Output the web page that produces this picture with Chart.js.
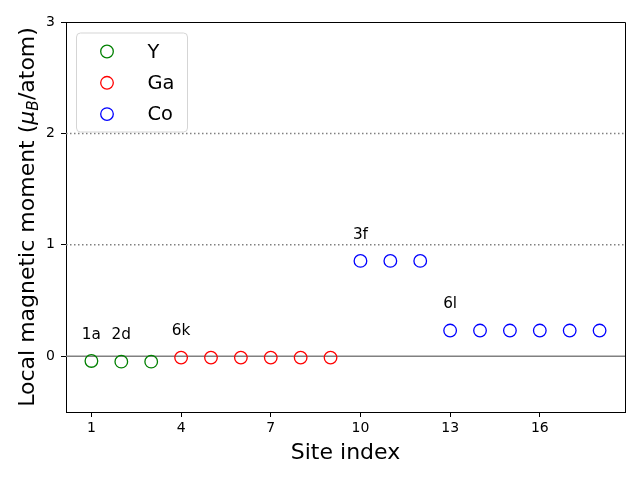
<!DOCTYPE html>
<html>
<head>
<meta charset="utf-8">
<script src="https://cdn.jsdelivr.net/npm/chart.js@4"></script>
<style>
  html, body { margin: 0; padding: 0; background: #ffffff; }
  #wrap { width: 640px; height: 480px; }
</style>
</head>
<body>
<div id="wrap"><canvas id="c" width="640" height="480"></canvas></div>
<script>
// ---- data ----
const siteY  = [1, 2, 3];
const momY   = [-0.042, -0.048, -0.048];
const siteGa = [4, 5, 6, 7, 8, 9];
const momGa  = [-0.012, -0.012, -0.012, -0.012, -0.012, -0.012];
const siteCo = [10, 11, 12, 13, 14, 15, 16, 17, 18];
const momCo  = [0.856, 0.856, 0.856, 0.231, 0.231, 0.231, 0.231, 0.231, 0.231];

const annotLabels = ['1a', '2d', '6k', '3f', '6l'];
const annotX      = [1, 2, 4, 10, 13];
const annotY      = [0.158, 0.152, 0.188, 1.056, 0.431];

const xTicks = [1, 4, 7, 10, 13, 16];
const yTicks = [0, 1, 2, 3];
const dottedLevels = [1, 2];
const solidLevels = [0];
const xRange = [0.15, 18.85];
const yRange = [-0.5, 3];

const FONT = "'DejaVu Sans', 'Liberation Sans', sans-serif";

function pts(xs, ys) { return xs.map((x, i) => ({ x: x, y: ys[i] })); }
function levelLine(v) { return [{ x: xRange[0], y: v }, { x: xRange[1], y: v }]; }

const datasets = [];
dottedLevels.forEach(v => datasets.push({
  type: 'line', label: '_ref', data: levelLine(v), borderColor: '#808080',
  borderWidth: 1.5, borderDash: [1.5, 2.5], pointRadius: 0, order: 10, isRef: true
}));
solidLevels.forEach(v => datasets.push({
  type: 'line', label: '_ref', data: levelLine(v), borderColor: '#808080',
  borderWidth: 1.5, pointRadius: 0, order: 10, isRef: true
}));
const series = [
  { label: 'Y',  data: pts(siteY, momY),   color: '#008000' },
  { label: 'Ga', data: pts(siteGa, momGa), color: '#ff0000' },
  { label: 'Co', data: pts(siteCo, momCo), color: '#0000ff' }
];
series.forEach(s => datasets.push({
  type: 'scatter', label: s.label, data: s.data,
  borderColor: s.color, backgroundColor: 'rgba(0,0,0,0)',
  pointRadius: 6.3, pointHoverRadius: 6.3, pointBorderWidth: 1.3, order: 1
}));

const overlayPlugin = {
  id: 'overlay',
  afterDraw(chart) {
    const ctx = chart.ctx;
    const xs = chart.scales.x, ys = chart.scales.y;
    const area = chart.chartArea;

    // top and right spines
    ctx.save();
    ctx.strokeStyle = '#000';
    ctx.lineWidth = 1;
    const L = Math.round(area.left) + 0.5, T = Math.round(area.top) + 0.5;
    const R = Math.round(area.right) + 0.5, B = Math.round(area.bottom) + 0.5;
    ctx.beginPath();
    ctx.moveTo(L, T); ctx.lineTo(R, T); ctx.lineTo(R, B);
    ctx.stroke();
    ctx.restore();

    // annotations
    ctx.save();
    ctx.fillStyle = '#000';
    ctx.font = '15.3px ' + FONT;
    ctx.textAlign = 'center';
    ctx.textBaseline = 'alphabetic';
    annotLabels.forEach((t, i) => {
      ctx.fillText(t, xs.getPixelForValue(annotX[i]), ys.getPixelForValue(annotY[i]));
    });
    ctx.restore();

    // legend
    const sets = chart.data.datasets.filter(d => !d.isRef);
    const bx = area.left + 10.5, by = area.top + 11, bw = 111, bh = 99, r = 4;
    ctx.save();
    ctx.beginPath();
    ctx.moveTo(bx + r, by);
    ctx.lineTo(bx + bw - r, by);
    ctx.arcTo(bx + bw, by, bx + bw, by + r, r);
    ctx.lineTo(bx + bw, by + bh - r);
    ctx.arcTo(bx + bw, by + bh, bx + bw - r, by + bh, r);
    ctx.lineTo(bx + r, by + bh);
    ctx.arcTo(bx, by + bh, bx, by + bh - r, r);
    ctx.lineTo(bx, by + r);
    ctx.arcTo(bx, by, bx + r, by, r);
    ctx.closePath();
    ctx.fillStyle = 'rgba(255,255,255,0.8)';
    ctx.fill();
    ctx.strokeStyle = '#d5d5d5';
    ctx.lineWidth = 1;
    ctx.stroke();
    ctx.font = '19.4px ' + FONT;
    ctx.textAlign = 'left';
    ctx.textBaseline = 'middle';
    sets.forEach((d, i) => {
      const cy = by + 18.5 + i * 31.3;
      ctx.beginPath();
      ctx.arc(bx + 30.5, cy, 6.3, 0, Math.PI * 2);
      ctx.strokeStyle = d.borderColor;
      ctx.lineWidth = 1.3;
      ctx.stroke();
      ctx.fillStyle = '#000';
      ctx.fillText(d.label, bx + 71, cy + 1);
    });
    ctx.restore();

    // y-axis title with subscript
    const parts = [
      { t: 'Local magnetic moment (', f: '22px ' + FONT, dy: 0 },
      { t: '\u03bc', f: 'italic 22px ' + FONT, dy: 0 },
      { t: 'B', f: 'italic 15.4px ' + FONT, dy: 3.5 },
      { t: '/atom)', f: '22px ' + FONT, dy: 0 }
    ];
    ctx.save();
    let total = 0;
    parts.forEach(p => { ctx.font = p.f; p.w = ctx.measureText(p.t).width; total += p.w; });
    const cy = (area.top + area.bottom) / 2;
    ctx.translate(34, cy);
    ctx.rotate(-Math.PI / 2);
    ctx.fillStyle = '#000';
    ctx.textBaseline = 'alphabetic';
    ctx.textAlign = 'left';
    let px = -total / 2;
    parts.forEach(p => { ctx.font = p.f; ctx.fillText(p.t, px, p.dy); px += p.w; });
    ctx.restore();
  }
};

new Chart(document.getElementById('c'), {
  data: { datasets: datasets },
  options: {
    responsive: false,
    devicePixelRatio: 1,
    animation: false,
    events: [],
    layout: { padding: { top: 22, right: 15, left: 0, bottom: 0 } },
    plugins: { legend: { display: false }, tooltip: { enabled: false } },
    scales: {
      x: {
        type: 'linear', min: xRange[0], max: xRange[1],
        afterBuildTicks: s => { s.ticks = xTicks.map(v => ({ value: v })); },
        afterFit: s => { s.height = 68; },
        grid: { drawOnChartArea: false, drawTicks: true, tickLength: 5, color: '#000', lineWidth: 1 },
        border: { display: true, color: '#000', width: 1 },
        ticks: { color: '#000', font: { family: FONT, size: 14 }, padding: 3, maxRotation: 0 },
        title: { display: true, text: 'Site index', color: '#000',
                 font: { family: FONT, size: 22 }, padding: { top: 0, bottom: 13.5 } }
      },
      y: {
        type: 'linear', min: yRange[0], max: yRange[1],
        afterBuildTicks: s => { s.ticks = yTicks.map(v => ({ value: v })); },
        afterFit: s => { s.width = 66; },
        grid: { drawOnChartArea: false, drawTicks: true, tickLength: 5, color: '#000', lineWidth: 1 },
        border: { display: true, color: '#000', width: 1 },
        ticks: { color: '#000', font: { family: FONT, size: 14 }, padding: 6 }
      }
    }
  },
  plugins: [overlayPlugin]
});
</script>
</body>
</html>
